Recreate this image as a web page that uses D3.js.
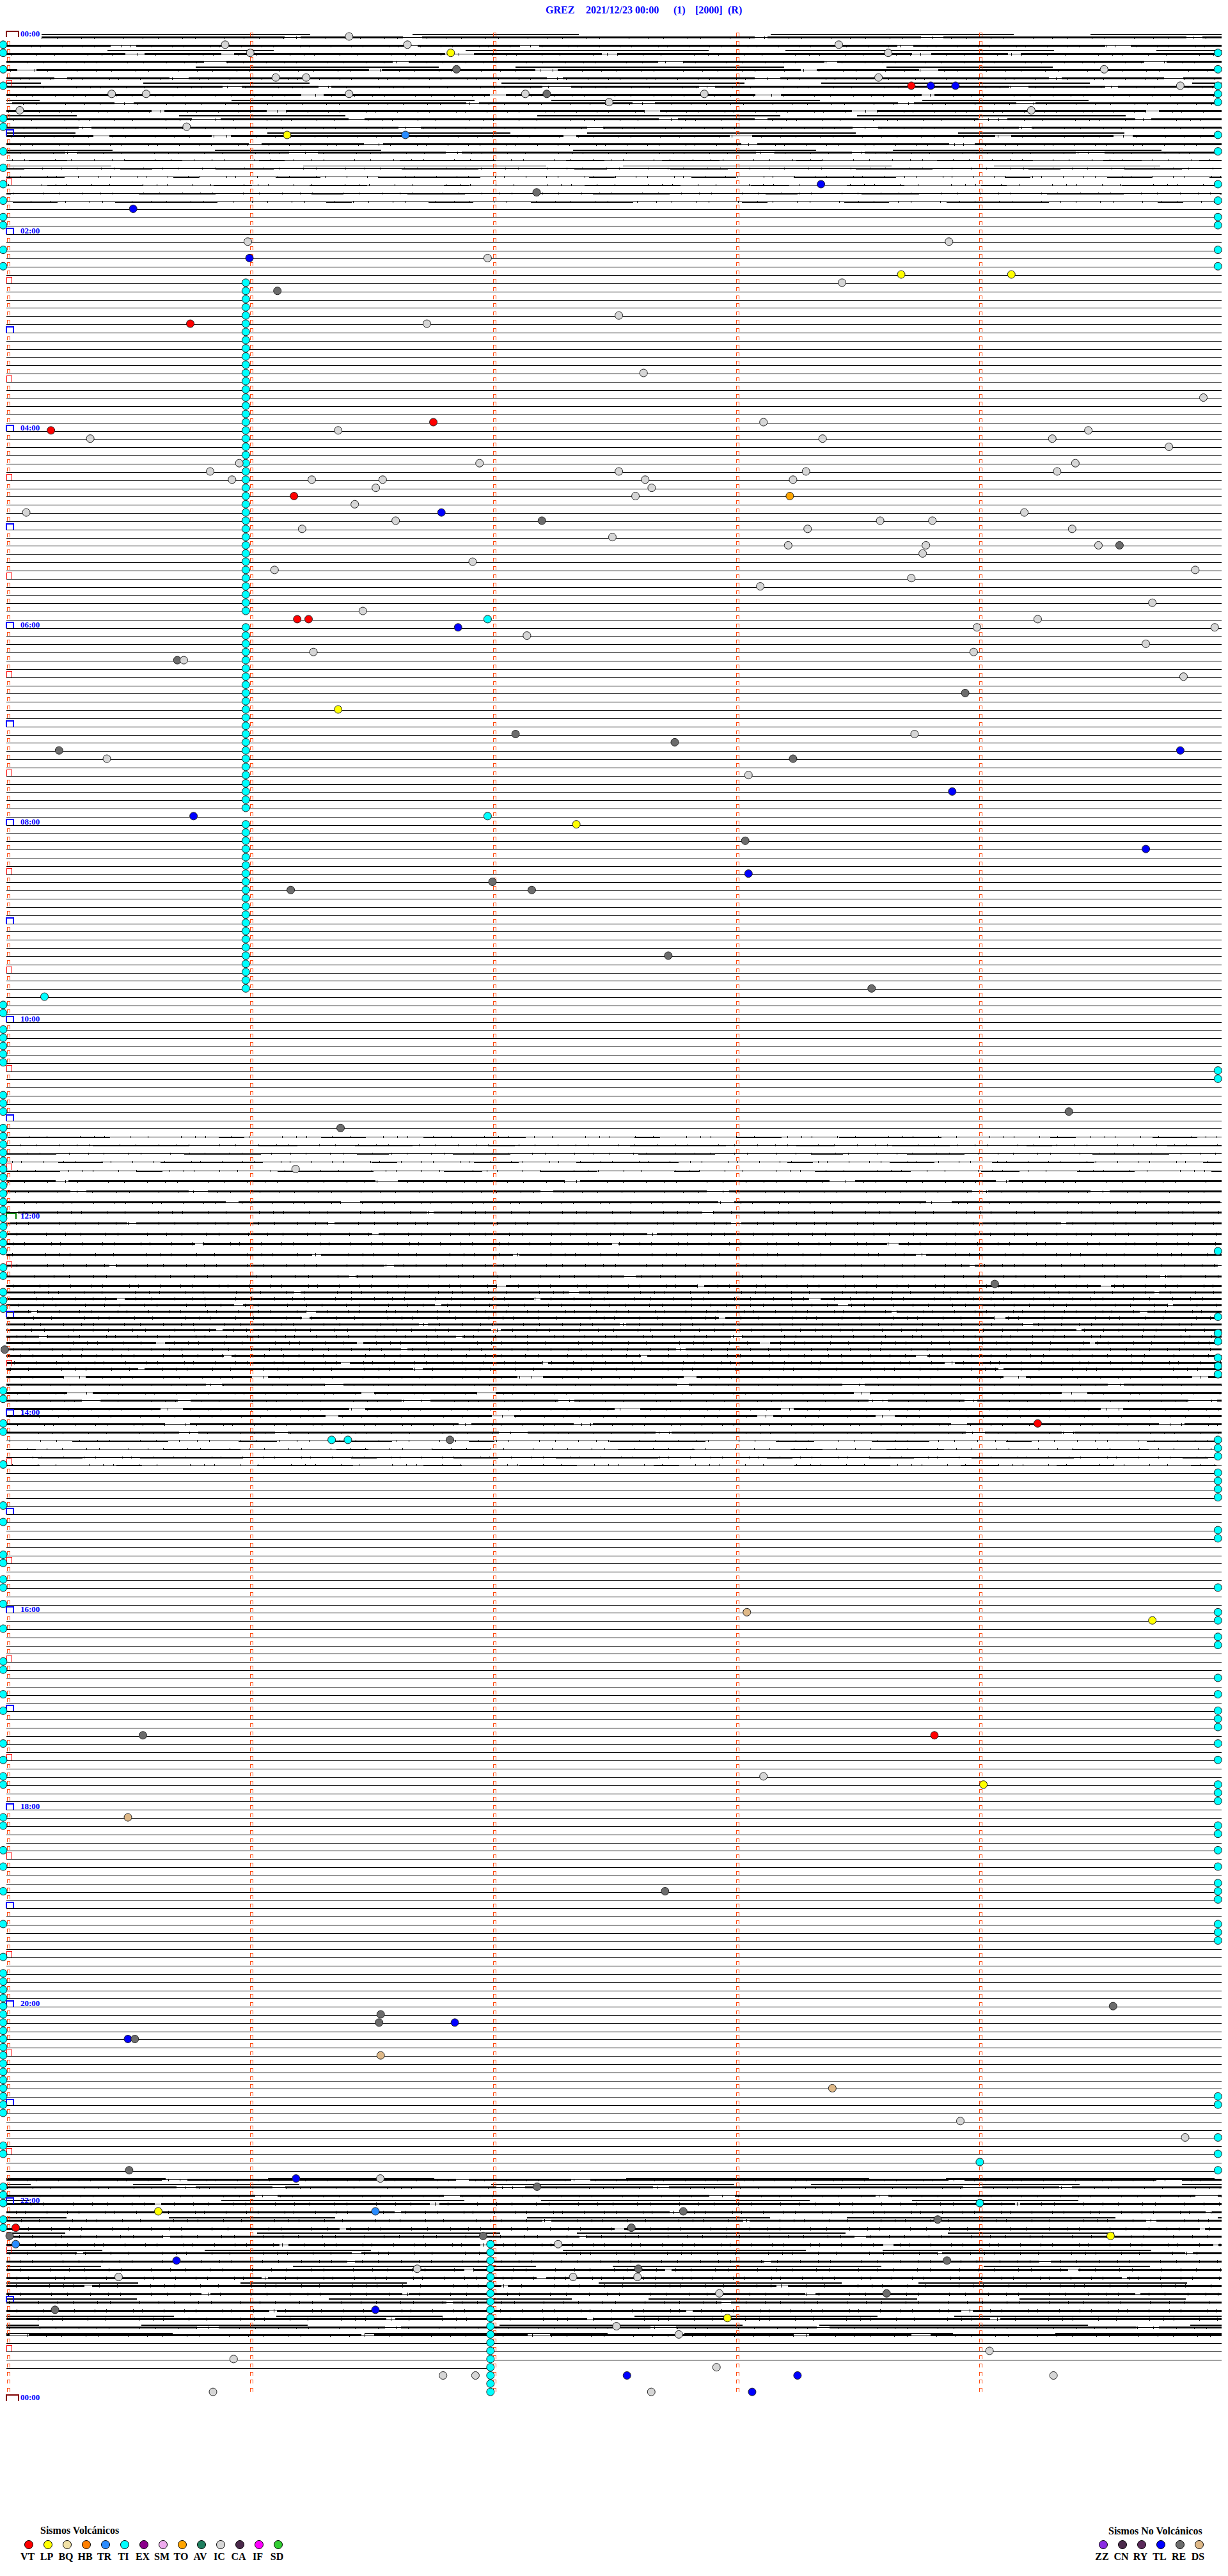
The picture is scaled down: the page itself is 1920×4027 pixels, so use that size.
<!DOCTYPE html>
<html><head><meta charset="utf-8">
<script src="https://cdn.jsdelivr.net/npm/d3@7"></script>
<style>html,body{margin:0;padding:0;background:#fff}svg{display:block}</style>
</head><body>
<script>
// ================= DATA =================
const titleParts = ["GREZ", "2021/12/23 00:00", "(1)", "[2000]", "(R)"];
const hourLabels = ["00:00","02:00","04:00","06:00","08:00","10:00","12:00","14:00","16:00","18:00","20:00","22:00","00:00"];
const rowsPerDay = 288;            // 5-minute lines
const secondsPerRow = 300;
const traceStartSec = 8.7;          // data starts 00:00:09
const lastTraceRow = 284;           // data ends 23:41:59
const lastTraceEndSec = 119;

// noise level (0..3), secondary level shift and baseline drift (counts) for noisy stretches
const noiseStartA = 0;
const noiseA = [2,2,2,2,2,2,2,2,2,2,2,2,2,2,2,1,1,1,1,1,1,0];
const stepA  = [-5,0,-6,0,-5,0,-6,0,-5,0,-6,0,-5,0,-4,0,-4,0,0,0,0,0];
const noiseStartB = 134;
const noiseB = [1,1,1,1,1, 2,2,2, 3,3,3,3,3,3,3,3,3,3,3,3,3,3,3,3,3,3,3,3,3, 2,2,2,2,2,2,2,2, 1,1,1,1];
const driftB = [0,0,0,0,1, 5,8,12,15,19,23,26,30,34,38,40, 38,35,32,29,26,23,20,17,14,11,8,6,4, 3,2,2,1,1,0,0,0,0,0,0,0];
const noiseStartC = 259;
const noiseC = [0,0,2,2,2, 3,3,3,3,3,3,3,3,3,3,3,3,3,3,3, 2,2, 0,0,0,0];
const stepC  = [0,0,-2,-5,0,-6,0,-5,0,-6,0,-5,0,-6,0,-5,0,-6,0,-5,-4,-3,0,0,0,0];

// event types
const volcTypes  = ["VT","LP","BQ","HB","TR","TI","EX","SM","TO","AV","IC","CA","IF","SD"];
const volcColors = ["#ff0000","#ffff00","#f2e2a6","#ff8000","#2a8cff","#00ffff","#8b008b","#eeaaee","#ffa500","#1f7f5f","#d6d6d6","#4b2a4b","#ff00ff","#32cd32"];
const nonVolcTypes  = ["ZZ","CN","RY","TL","RE","DS"];
const nonVolcColors = ["#8a2be2","#4b2a4b","#5a2a5a","#0000ff","#6c6c6c","#deb887"];

// continuous tremor (TI) markers
const tiColumnSecA = 59.1;
const tiRunsA = [[30,70],[72,94],[96,116]];
const tiColumnSecB = 119.5;
const tiRunsB = [[269,287]];
const tiLeftRows = [1,2,4,6,10,11,14,16,18,20,22,23,26,28,118,119,121,122,123,124,125,129,130,131,
  133,134,135,136,137,138,139,140,141,142,143,144,145,146,147,148,150,151,153,154,155,165,166,169,170,174,
  179,181,185,186,188,189,191,194,198,199,202,204,208,210,212,213,217,218,221,223,226,230,234,
  236,237,238,239,240,241,242,243,244,245,246,247,248,249,250,251,252,253,257,258,262,263,264,266,267];
const tiRightRows = [2,4,6,7,8,12,14,18,20,22,23,26,28,126,127,148,156,158,159,161,162,163,171,172,173,
  175,176,177,178,182,183,189,192,193,195,196,200,202,204,205,206,208,210,213,214,215,218,219,221,223,
  225,226,227,230,231,232,251,252,256,258,260];
const edgeLeftSec = -0.8, edgeRightSec = 299.1;

// events: [row (5-min line), second within line, type]
const events = [
 [0,84.6,"IC"],[1,54,"IC"],[1,99,"IC"],[1,205.5,"IC"],[2,60.2,"IC"],[2,109.7,"LP"],[2,217.7,"IC"],
 [4,111.1,"RE"],[4,271,"IC"],[5,66.5,"IC"],[5,74,"IC"],[5,215.3,"IC"],
 [6,223.4,"VT"],[6,228.2,"TL"],[6,234.3,"TL"],[6,289.8,"IC"],
 [7,26,"IC"],[7,34.5,"IC"],[7,84.6,"IC"],[7,128.1,"IC"],[7,133.4,"RE"],[7,172.3,"IC"],
 [8,148.8,"IC"],[9,3.3,"IC"],[9,253,"IC"],[11,44.5,"IC"],[12,69.3,"LP"],[12,98.5,"TR"],
 [18,201.1,"TL"],[19,130.9,"RE"],[21,31.3,"TL"],[25,59.6,"IC"],[25,232.7,"IC"],
 [27,60,"TL"],[27,118.8,"IC"],[29,220.9,"LP"],[29,248.1,"LP"],[30,206.3,"IC"],[31,66.9,"RE"],
 [34,151.2,"IC"],[35,45.4,"VT"],[35,103.8,"IC"],[41,157.3,"IC"],[44,295.5,"IC"],
 [47,105.4,"VT"],[47,186.9,"IC"],[48,11,"VT"],[48,81.9,"IC"],[48,267.1,"IC"],
 [49,20.7,"IC"],[49,201.5,"IC"],[49,258.2,"IC"],[50,287,"IC"],
 [52,57.5,"IC"],[52,116.8,"IC"],[52,263.9,"IC"],
 [53,50.3,"IC"],[53,151.2,"IC"],[53,197.4,"IC"],[53,259.4,"IC"],
 [54,55.7,"IC"],[54,75.4,"IC"],[54,92.9,"IC"],[54,157.7,"IC"],[54,194.2,"IC"],
 [55,91.2,"IC"],[55,159.3,"IC"],[56,71,"VT"],[56,155.3,"IC"],[56,193.4,"TO"],[57,86,"IC"],
 [58,4.9,"IC"],[58,107.4,"TL"],[58,251.3,"IC"],
 [59,96.1,"IC"],[59,132.2,"RE"],[59,215.7,"IC"],[59,228.6,"IC"],
 [60,73,"IC"],[60,197.8,"IC"],[60,263.1,"IC"],[61,149.6,"IC"],
 [62,193,"IC"],[62,227,"IC"],[62,269.6,"IC"],[62,274.8,"RE"],[63,226.2,"IC"],[64,115.1,"IC"],
 [65,66.2,"IC"],[65,293.5,"IC"],[66,223.4,"IC"],[67,186.1,"IC"],[69,282.9,"IC"],[70,88,"IC"],
 [71,71.8,"VT"],[71,74.6,"VT"],[71,118.8,"TI"],[71,254.6,"IC"],
 [72,111.5,"TL"],[72,239.6,"IC"],[72,298.3,"IC"],[73,128.5,"IC"],[74,281.3,"IC"],
 [75,75.8,"IC"],[75,238.8,"IC"],[76,42.2,"RE"],[76,43.8,"IC"],[78,290.6,"IC"],[80,236.7,"RE"],
 [82,81.9,"LP"],[85,125.7,"RE"],[85,224.2,"IC"],[86,165,"RE"],[87,13,"RE"],[87,289.8,"TL"],
 [88,24.8,"IC"],[88,194.2,"RE"],[90,183.2,"IC"],[92,233.5,"TL"],[95,46.2,"TL"],[95,118.8,"TI"],
 [96,140.7,"LP"],[98,182.4,"RE"],[99,281.3,"TL"],[102,183.2,"TL"],[103,120,"RE"],
 [104,70.2,"RE"],[104,129.7,"RE"],[112,163.4,"RE"],[116,213.6,"RE"],[117,9.4,"TI"],
 [131,262.3,"RE"],[133,82.5,"RE"],[138,71.4,"IC"],[152,244,"RE"],[160,-0.4,"RE"],
 [169,254.6,"VT"],[171,80.3,"TI"],[171,84.3,"TI"],[171,109.5,"RE"],
 [192,182.8,"DS"],[193,282.9,"LP"],[207,33.7,"RE"],[207,229.1,"VT"],[212,186.9,"IC"],
 [213,241.2,"LP"],[217,30,"DS"],[226,162.6,"RE"],[240,273.2,"RE"],[241,92.4,"RE"],
 [242,92,"RE"],[242,110.7,"TL"],[244,30,"TL"],[244,31.7,"RE"],[246,92.4,"DS"],[250,203.9,"DS"],
 [254,235.5,"IC"],[256,291,"IC"],[259,240.3,"TI"],[260,30.3,"RE"],[261,71.5,"TL"],[261,92.3,"IC"],
 [262,131,"RE"],[264,240.3,"TI"],[265,37.5,"LP"],[265,91.1,"TR"],[265,167.1,"RE"],[266,229.9,"RE"],
 [267,2.3,"VT"],[267,154.3,"RE"],[268,0.8,"RE"],[268,117.7,"RE"],[268,272.6,"LP"],
 [269,2.3,"TR"],[269,136.2,"IC"],[271,42,"TL"],[271,232.2,"RE"],[272,101.4,"IC"],[272,156,"RE"],
 [273,27.7,"IC"],[273,139.9,"IC"],[273,155.8,"IC"],[275,176,"IC"],[275,217.3,"RE"],
 [277,12,"RE"],[277,91.1,"TL"],[278,178,"LP"],[279,150.6,"IC"],[280,166,"IC"],[282,242.7,"IC"],
 [283,56.1,"IC"],[284,175.3,"IC"],
 [285,107.8,"IC"],[285,115.8,"IC"],[285,153.2,"TL"],[285,195.3,"TL"],[285,258.5,"IC"],
 [287,51,"IC"],[287,159.2,"IC"],[287,184.1,"TL"]
];

// ================= DRAWING =================
const W = 1920, H = 4027;
const svg = d3.select("body").append("svg").attr("width", W).attr("height", H)
  .style("font-family", "'Liberation Serif','Times New Roman',serif");
svg.append("rect").attr("width", W).attr("height", H).attr("fill", "#fff");

const x = d3.scaleLinear().domain([0, secondsPerRow]).range([10, 1910]);
const y = d3.scaleLinear().domain([0, rowsPerDay]).range([58, 3753]);
const amp = d3.scaleLinear().domain([-100, 100]).range([-100, 100]);

const level = Array(rowsPerDay).fill(0), drift = Array(rowsPerDay).fill(0), step = Array(rowsPerDay).fill(0);
noiseA.forEach((v,i)=>{ level[noiseStartA+i]=v; step[noiseStartA+i]=stepA[i]; });
noiseB.forEach((v,i)=>{ level[noiseStartB+i]=v; drift[noiseStartB+i]=driftB[i]; });
noiseC.forEach((v,i)=>{ level[noiseStartC+i]=v; step[noiseStartC+i]=stepC[i]; });

const colorOf = {};
volcTypes.forEach((t,i)=>colorOf[t]=volcColors[i]);
nonVolcTypes.forEach((t,i)=>colorOf[t]=nonVolcColors[i]);

const lineGen = d3.line().x(d=>x(d[0])).y(d=>d[1]);

// style patterns for the noisy trace texture
const thickDash = {
  1: ["90 120 40 180 150 110 60 90", "120 150 50 100 90 200", "70 90 160 170 40 120"],
  2: ["380 25 160 30 520 20 240 35", "300 40 420 20 160 30 560 25", "460 30 120 20 330 45 200 25", "220 20 480 35 260 25 390 40"],
  3: ["700 10 420 15 900 8 380 12", "560 12 640 10 420 18 820 10", "880 14 300 10 620 16 500 8"]
};
const tickDash = ["1 23 1 37 1 19 1 45 1 29", "1 31 1 17 1 41 1 13 1 33", "1 15 1 39 1 27 1 51 1 21", "1 27 1 18 1 47 1 24 1 35"];

const gTr = svg.append("g").attr("shape-rendering", "crispEdges");
for (let r = 0; r <= lastTraceRow; r++) {
  const s0 = r === 0 ? traceStartSec : 0;
  const s1 = r === lastTraceRow ? lastTraceEndSec : secondsPerRow;
  const yb = Math.round(y(r) + amp(drift[r]));
  const pts = [[s0, yb + 0.5], [s1, yb + 0.5]];
  const L = level[r];
  gTr.append("path").attr("d", lineGen(pts)).attr("stroke", "#000").attr("stroke-width", 1).attr("fill", "none");
  if (step[r] !== 0) {
    const ys = yb + Math.round(amp(step[r])) + 0.5;
    gTr.append("path").attr("d", lineGen([[s0, ys], [s1, ys]]))
      .attr("stroke", "#000").attr("stroke-width", L >= 2 ? 2 : 1).attr("fill", "none")
      .attr("stroke-dasharray", "420 160 260 300 380 120").attr("stroke-dashoffset", (r * 211) % 900);
  }
  if (L > 0) {
    const pats = thickDash[L];
    gTr.append("path").attr("d", lineGen(pts)).attr("stroke", "#000")
      .attr("stroke-width", L === 1 ? 2 : 3).attr("fill", "none")
      .attr("stroke-dasharray", pats[r % pats.length]).attr("stroke-dashoffset", (r * 137) % 700);
    gTr.append("path").attr("d", lineGen(pts)).attr("stroke", "#000")
      .attr("stroke-width", [0, 3, 4, 5][L]).attr("fill", "none")
      .attr("stroke-dasharray", tickDash[r % tickDash.length]).attr("stroke-dashoffset", (r * 53) % 97);
  }
}

// minute markers and hour / half-hour markers
const gM = svg.append("g").attr("fill", "none").attr("shape-rendering", "crispEdges");
for (let r = 0; r <= rowsPerDay; r++) {
  const yr = Math.round(y(r));
  for (let k = 0; k < 5; k++) {
    const x0 = Math.round(x(k * 60));
    if (k === 0 && r % 6 === 0) continue;
    if (r === rowsPerDay) continue;
    gM.append("path").attr("d", `M${x0+1.5},${yr-1} V${yr-6.5} H${x0+5.5} V${yr-1}`)
      .attr("stroke", "#ff4a10").attr("stroke-width", 1);
  }
  if (r % 12 === 0) {
    let col = "#0000ff", w = 11;
    if (r === 0 || r === rowsPerDay) { col = "#800000"; w = 19; }
    else if (r === 144) { col = "#008000"; w = 15; }
    gM.append("path").attr("d", `M10,${yr} V${yr-9} H${10+w} V${yr}`).attr("stroke", col).attr("stroke-width", 2);
  } else if (r % 6 === 0) {
    gM.append("path").attr("d", `M10.5,${yr} V${yr-9.5} H18.5 V${yr}`).attr("stroke", "#ff0000").attr("stroke-width", 1.3);
  }
}

// hour labels
hourLabels.forEach((lab, i) => {
  svg.append("text").attr("x", 32).attr("y", Math.round(y(i * 24)) - 1.5)
    .attr("fill", "#0000ff").attr("font-size", 13).attr("font-weight", "bold").text(lab);
});

// events
const gE = svg.append("g").attr("stroke", "#222").attr("stroke-width", 1);
function dot(row, sec, type) {
  gE.append("circle").attr("cx", x(sec)).attr("cy", y(row) - 1).attr("r", 6).attr("fill", colorOf[type]);
}
tiRunsA.forEach(([a,b]) => { for (let r = a; r <= b; r++) dot(r, tiColumnSecA, "TI"); });
tiRunsB.forEach(([a,b]) => { for (let r = a; r <= b; r++) dot(r, tiColumnSecB, "TI"); });
tiLeftRows.forEach(r => dot(r, edgeLeftSec, "TI"));
tiRightRows.forEach(r => dot(r, edgeRightSec, "TI"));
events.forEach(([r, s, t]) => dot(r, s, t));

// title
const titleX = [853, 916, 1053, 1087, 1138];
titleParts.forEach((t, i) => {
  svg.append("text").attr("x", titleX[i]).attr("y", 21).attr("fill", "#0000ff")
    .attr("font-size", 16).attr("font-weight", "bold").text(t);
});

// legends
function legend(title, tx, cx0, types, colors, titleY) {
  svg.append("text").attr("x", tx).attr("y", titleY).attr("font-size", 16).attr("font-weight", "bold").attr("fill", "#000").text(title);
  types.forEach((t, i) => {
    svg.append("circle").attr("cx", cx0 + i * 30).attr("cy", 3978).attr("r", 6.5)
      .attr("fill", colors[i]).attr("stroke", "#000").attr("stroke-width", 1);
    svg.append("text").attr("x", cx0 + i * 30 - 2).attr("y", 4002).attr("text-anchor", "middle")
      .attr("font-size", 16).attr("font-weight", "bold").attr("fill", "#000").text(t);
  });
}
legend("Sismos Volcánicos", 63, 45, volcTypes, volcColors, 3961);
legend("Sismos No Volcánicos", 1733, 1725, nonVolcTypes, nonVolcColors, 3962);
</script>
</body></html>
